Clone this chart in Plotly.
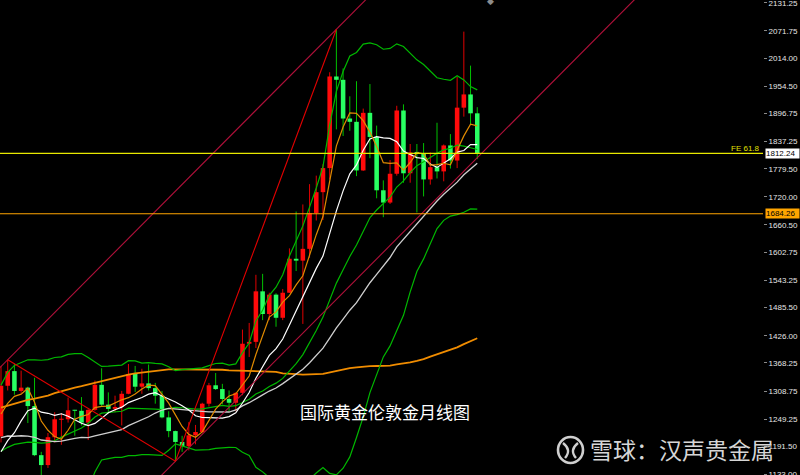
import plotly.graph_objects as go

# ---------------- data (monthly XAUUSD, Jun 2016 .. May 2022) ----------------
months = [f"{2016 + (5 + k) // 12}-{(5 + k) % 12 + 1:02d}" for k in range(72)]

opens = [1213,1320,1351,1309,1316,1277,1173,1152,1211,1248,
         1249,1268,1267,1242,1269,1322,1280,1271,1275,1303,
         1345,1318,1325,1315,1299,1253,1224,1201,1192,1215,
         1222,1282,1321,1313,1292,1284,1305,1409,1413,1520,
         1472,1513,1464,1517,1589,1585,1610,1686,1730,1781,
         1975,1968,1886,1879,1776,1898,1847,1734,1708,1769,
         1903,1770,1814,1813,1757,1783,1774,1829,1797,1909,
         1937,1897]
highs = [1362,1375,1367,1352,1318,1337,1180,1220,1264,1262,
         1295,1269,1296,1270,1331,1357,1306,1299,1309,1366,
         1362,1356,1365,1326,1309,1266,1225,1214,1243,1237,
         1284,1326,1347,1324,1310,1306,1439,1453,1555,1557,
         1517,1516,1525,1611,1689,1704,1747,1765,1789,1984,
         2075,1992,1933,1965,1907,1959,1871,1755,1798,1913,
         1916,1832,1832,1834,1814,1877,1831,1853,1974,2070,
         1998,1910]
lows = [1200,1310,1301,1305,1241,1171,1123,1146,1200,1195,
        1242,1214,1236,1205,1267,1275,1261,1264,1236,1302,
        1307,1303,1310,1282,1251,1211,1160,1180,1183,1196,
        1221,1276,1311,1281,1266,1266,1300,1381,1400,1459,
        1459,1445,1459,1517,1563,1451,1591,1670,1671,1757,
        1863,1849,1860,1764,1775,1802,1717,1677,1705,1765,
        1750,1750,1687,1721,1746,1759,1753,1780,1781,1890,
        1872,1800]
closes = [1320,1351,1309,1316,1277,1173,1152,1211,1249,1249,
          1268,1267,1242,1269,1322,1280,1271,1275,1303,1345,
          1318,1325,1315,1299,1253,1224,1201,1192,1215,1222,
          1282,1321,1313,1292,1284,1305,1409,1413,1520,1472,
          1513,1464,1517,1589,1585,1610,1686,1730,1781,1975,
          1968,1886,1879,1776,1898,1847,1734,1708,1769,1903,
          1770,1814,1813,1757,1783,1774,1829,1797,1909,1937,
          1897,1812.24]

# indicator lines
ma5 = [1260.2,1282.8,1297.6,1302.2,1314.6,1285.2,1245.4,1225.8,1212.4,1206.8,
       1225.8,1249.0,1255.2,1259.2,1273.8,1276.2,1276.8,1283.4,1290.2,1294.8,
       1302.4,1313.2,1321.2,1320.4,1302.0,1283.2,1258.4,1233.8,1217.0,1210.8,
       1222.4,1246.4,1270.6,1286.0,1298.4,1303.0,1320.6,1340.6,1386.2,1423.8,
       1465.4,1476.4,1497.2,1511.0,1533.6,1553.0,1597.4,1640.0,1678.4,1756.4,
       1828.0,1868.0,1897.8,1896.8,1881.4,1857.2,1826.8,1792.6,1791.2,1792.2,
       1776.8,1792.8,1813.8,1811.4,1787.4,1788.2,1791.2,1788.0,1818.4,1849.2,
       1873.8,1870.4]
ma10 = [1180.2,1203.8,1220.5,1245.6,1267.2,1272.7,1264.1,1261.7,1257.3,1260.7,
        1255.5,1247.2,1240.5,1235.8,1240.3,1251.0,1262.9,1269.3,1274.7,1284.3,
        1289.3,1295.0,1302.3,1305.3,1298.4,1292.8,1285.8,1277.5,1268.7,1256.4,
        1252.8,1252.4,1252.2,1251.5,1254.6,1262.7,1283.5,1305.6,1336.1,1361.1,
        1384.2,1398.5,1418.9,1448.6,1478.7,1509.2,1536.9,1568.6,1594.7,1645.0,
        1690.5,1732.7,1768.9,1787.6,1818.9,1842.6,1847.4,1845.2,1844.0,1836.8,
        1817.0,1809.8,1803.2,1801.3,1789.8,1782.5,1792.0,1800.9,1814.9,1818.3,
        1831.0,1830.8]
ma30 = [1210.1,1213.6,1213.1,1214.1,1213.5,1210.9,1205.1,1202.7,1201.5,1202.7,
        1206.0,1208.8,1210.7,1210.2,1213.9,1217.1,1220.0,1222.9,1227.2,1235.6,
        1241.7,1248.7,1254.4,1262.2,1268.6,1272.2,1270.9,1269.5,1266.9,1267.1,
        1265.9,1264.9,1265.0,1264.2,1264.4,1268.8,1277.4,1284.1,1293.2,1300.6,
        1308.8,1315.3,1324.5,1335.1,1343.9,1354.9,1368.7,1383.9,1399.8,1420.8,
        1442.5,1461.2,1480.0,1495.9,1517.4,1538.2,1555.9,1573.1,1591.6,1614.3,
        1630.6,1647.0,1663.7,1679.2,1695.8,1711.4,1725.4,1738.2,1751.2,1766.7,
        1779.5,1791.1]
bb_mid = [1181.2,1189.6,1195.9,1197.5,1200.7,1200.2,1198.6,1199.7,1203.5,1211.2,
          1217.9,1225.5,1230.5,1240.7,1253.8,1261.9,1263.5,1265.5,1266.0,1272.5,
          1272.4,1271.1,1271.4,1270.6,1269.4,1271.9,1274.4,1273.4,1271.7,1270.4,
          1271.1,1273.7,1277.3,1278.4,1276.5,1277.8,1284.7,1291.6,1302.4,1308.8,
          1318.5,1325.5,1335.6,1350.1,1366.7,1386.0,1410.2,1437.1,1465.4,1503.1,
          1537.4,1565.6,1593.9,1618.1,1648.8,1675.9,1692.2,1706.9,1719.4,1740.9,
          1753.8,1771.3,1786.1,1794.5,1804.4,1812.6,1819.7,1823.1,1829.5,1827.6,
          1824.0,1820.3]
bb_up = [1321.4,1348.2,1363.1,1368.5,1375.1,1375.0,1374.0,1375.5,1379.9,1381.2,
         1386.3,1387.9,1388.3,1379.7,1370.4,1360.9,1361.5,1362.7,1363.8,1373.1,
         1372.8,1368.1,1368.8,1367.2,1366.4,1360.3,1352.0,1354.0,1355.5,1357.0,
         1357.9,1362.7,1367.1,1367.8,1363.7,1366.4,1390.1,1410.6,1457.4,1480.0,
         1511.5,1528.7,1555.2,1594.9,1627.5,1658.6,1698.4,1738.9,1784.2,1871.9,
         1943.4,1985.8,2018.5,2025.9,2043.6,2046.3,2042.2,2032.7,2034.4,2044.1,
         2038.4,2023.7,2010.3,2000.3,1986.6,1972.4,1969.1,1966.9,1976.5,1967.8,
         1953.6,1946.7]
bb_low = [1041.0,1031.0,1028.7,1026.5,1026.3,1025.4,1023.2,1023.9,1027.1,1041.2,
          1049.5,1063.1,1072.7,1101.7,1137.2,1162.9,1165.5,1168.3,1168.2,1171.9,
          1172.0,1174.1,1174.0,1174.0,1172.4,1183.5,1196.8,1192.8,1187.9,1183.8,
          1184.3,1184.7,1187.5,1189.0,1189.3,1189.2,1179.3,1172.6,1147.4,1137.6,
          1125.5,1122.3,1116.0,1105.3,1105.9,1113.4,1122.0,1135.3,1146.6,1134.3,
          1131.4,1145.4,1169.3,1210.3,1254.0,1305.5,1342.2,1381.1,1404.4,1437.7,
          1469.2,1518.9,1561.9,1588.7,1622.2,1652.8,1670.3,1679.3,1682.5,1687.4,
          1694.4,1693.9]
ma100 = [1273.6,1277.9,1282.4,1286.7,1290.2,1292.8,1296.0,1299.3,1304.5,1308.9,
         1312.8,1316.2,1319.2,1322.8,1327.1,1330.1,1333.5,1336.7,1340.2,1343.7,
         1346.4,1347.9,1350.1,1352.2,1353.6,1354.7,1354.9,1354.7,1354.4,1354.8,
         1355.2,1355.3,1354.9,1353.9,1352.6,1352.3,1352.3,1352.0,1351.7,1351.0,
         1351.1,1349.5,1346.4,1346.1,1344.7,1343.4,1344.6,1344.5,1345.2,1348.3,
         1351.3,1354.6,1357.3,1358.9,1361.0,1361.7,1361.9,1361.8,1362.8,1365.2,
         1367.1,1369.3,1372.6,1376.3,1381.8,1386.4,1390.7,1395.4,1401.3,1408.1,
         1415.1,1420.7]

# drawn objects: A-B-C swing points and Fibonacci expansion levels
abc_idx = [1, 26, 50]
abc_price = [1375, 1160, 2075]
fe_618 = 1812.24
fe_level2 = 1684.26
last_price = 1812.24

tick_vals = [2131.25, 2071.75, 2014.00, 1954.50, 1896.75, 1837.25, 1779.50,
             1720.00, 1660.50, 1602.75, 1543.25, 1485.50, 1426.00, 1368.25,
             1308.75, 1249.25, 1191.50, 1133.00]

# ---------------- figure ----------------
W, H, RM = 800, 475, 37
PW = W - RM
def pap(xp, yp):
    return xp / PW, 1 - yp / H

x = list(range(len(months)))
up = [c >= o for o, c in zip(opens, closes)]

UP_BODY, DN_BODY = "#FF0A0A", "#28FF62"
UP_WICK, DN_WICK = "#E00000", "#00C000"

fig = go.Figure()

# wicks
for flag, col in ((True, UP_WICK), (False, DN_WICK)):
    wx, wy = [], []
    for i in x:
        if up[i] == flag:
            wx += [i, i, None]
            wy += [lows[i], highs[i], None]
    fig.add_trace(go.Scatter(x=wx, y=wy, mode="lines", line=dict(color=col, width=1),
                             hoverinfo="skip", showlegend=False, zorder=0))

# bodies
for flag, col in ((True, UP_BODY), (False, DN_BODY)):
    bx = [i for i in x if up[i] == flag]
    base = [min(opens[i], closes[i]) for i in bx]
    hgt = [max(abs(closes[i] - opens[i]), 2.2) for i in bx]
    fig.add_trace(go.Bar(x=bx, y=hgt, base=base, width=0.68,
                         marker=dict(color=col, line=dict(width=0)),
                         hoverinfo="skip", showlegend=False, zorder=1))

def line(vals, col, w):
    fig.add_trace(go.Scatter(x=x, y=vals, mode="lines", line=dict(color=col, width=w),
                             hoverinfo="skip", showlegend=False, zorder=2))

line(ma100, "#F08C00", 1.8)
line(bb_up, "#00B800", 1.2)
line(bb_mid, "#00B800", 1.2)
line(bb_low, "#00B800", 1.2)
line(ma30, "#CFCFCF", 1.3)
line(ma10, "#FFFFFF", 1.2)
line(ma5, "#E08A00", 1.2)

# channel through the two swing highs, parallel through the swing low
slope = (abc_price[2] - abc_price[0]) / (abc_idx[2] - abc_idx[0])
ext = [-2, 140]
for ax_, ay_ in ((abc_idx[0], abc_price[0]), (abc_idx[1], abc_price[1])):
    fig.add_trace(go.Scatter(x=ext, y=[ay_ + slope * (e - ax_) for e in ext], mode="lines",
                             line=dict(color="#B0103A", width=1.1),
                             hoverinfo="skip", showlegend=False, zorder=3))
# A-B-C legs
fig.add_trace(go.Scatter(x=abc_idx, y=abc_price, mode="lines",
                         line=dict(color="#E00000", width=1.1),
                         hoverinfo="skip", showlegend=False, zorder=3))

shapes = [
    dict(type="line", xref="paper", x0=0, x1=1, yref="y", y0=fe_618, y1=fe_618,
         line=dict(color="#E8E800", width=1.2), layer="above"),
    dict(type="line", xref="paper", x0=0, x1=1, yref="y", y0=fe_level2, y1=fe_level2,
         line=dict(color="#FFA500", width=1.2), layer="above"),
]
# watermark logo
cx0, cy0 = pap(558, 437)
cx1, cy1 = pap(583, 463)
shapes.append(dict(type="circle", xref="paper", yref="paper", x0=cx0, x1=cx1, y0=cy1, y1=cy0,
                   line=dict(color="#CFCFCF", width=2.6)))
def pth(pts):
    s = ""
    for cmd, pp in pts:
        s += cmd + " ".join(f"{pap(a, b)[0]:.5f},{pap(a, b)[1]:.5f}" for a, b in pp) + " "
    return s.strip()
shapes.append(dict(type="path", xref="paper", yref="paper",
                   path=pth([("M", [(563, 443)]), ("Q", [(572, 450), (565, 458)])]),
                   line=dict(color="#CFCFCF", width=2.4)))
shapes.append(dict(type="path", xref="paper", yref="paper",
                   path=pth([("M", [(578, 443)]), ("Q", [(569, 450), (576, 458)])]),
                   line=dict(color="#CFCFCF", width=2.4)))

annotations = []
tx, ty = pap(385, 411)
annotations.append(dict(text="国际黄金伦敦金月线图", xref="paper", yref="paper", x=tx, y=ty,
                        xanchor="center", yanchor="middle", showarrow=False,
                        font=dict(family="Noto Sans CJK SC", size=17, color="#FFFFFF")))
wx_, wy_ = pap(682, 449)
annotations.append(dict(text="雪球：汉声贵金属", xref="paper", yref="paper", x=wx_, y=wy_,
                        xanchor="center", yanchor="middle", showarrow=False,
                        font=dict(family="Noto Sans CJK SC", size=23, color="#D6D6D6")))
annotations.append(dict(text="FE 61.8", xref="paper", x=1, xanchor="right", xshift=-1,
                        yref="y", y=fe_618, yanchor="bottom", yshift=-2, showarrow=False,
                        font=dict(family="Liberation Sans", size=8, color="#E0E000")))
annotations.append(dict(text=f"{last_price:.2f}", xref="paper", x=1, xanchor="left", xshift=2,
                        yref="y", y=last_price, yanchor="middle", showarrow=False,
                        bgcolor="#FFFFFF", width=33, align="left", borderpad=0,
                        font=dict(family="Liberation Sans", size=8, color="#000000")))
annotations.append(dict(text=f"{fe_level2:.2f}", xref="paper", x=1, xanchor="left", xshift=2,
                        yref="y", y=fe_level2, yanchor="middle", showarrow=False,
                        bgcolor="#FFA500", width=33, align="left", borderpad=0,
                        font=dict(family="Liberation Sans", size=8, color="#000000")))
dx, dy = pap(490, 1)
annotations.append(dict(text="◆", xref="paper", yref="paper", x=dx, y=dy, xanchor="center",
                        yanchor="middle", showarrow=False,
                        font=dict(size=9, color="#8C8C8C")))

fig.update_layout(
    width=W, height=H,
    margin=dict(l=0, r=RM, t=0, b=0),
    paper_bgcolor="#000000", plot_bgcolor="#000000",
    barmode="overlay", showlegend=False, hovermode=False,
    shapes=shapes, annotations=annotations,
    xaxis=dict(range=[-0.15, 113.6], visible=False, showgrid=False, zeroline=False),
    yaxis=dict(range=[1131, 2137], side="right", showgrid=False, zeroline=False,
               showline=True, linecolor="#8A8A8A", linewidth=1,
               ticks="outside", ticklen=3, tickcolor="#8A8A8A", tickwidth=1,
               tickvals=tick_vals, ticktext=[f"{v:.2f}" for v in tick_vals],
               ticklabeloverflow="allow", automargin=False,
               tickfont=dict(family="Liberation Sans", size=8, color="#E6E6E6")),
)

fig.write_html("out.html", config={"displayModeBar": False, "staticPlot": True},
               post_script="document.body.style.margin='0';document.body.style.background='#000';")
